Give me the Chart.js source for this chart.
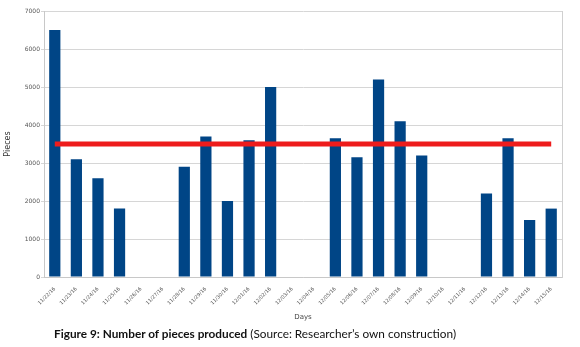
<!DOCTYPE html>
<html><head><meta charset="utf-8">
<script src="https://cdn.jsdelivr.net/npm/chart.js@4"></script>
<style>
html,body{margin:0;padding:0;background:#fff;}
#wrap{position:relative;width:580px;height:347px;}
#cap{position:absolute;left:54px;top:326px;font-family:Lato,"Open Sans",sans-serif;font-size:11.8px;color:#111;white-space:nowrap;}
#cap b{font-weight:700;}
</style></head><body>
<div id="wrap"><canvas id="c" width="580" height="347"></canvas>
<div id="cap"><b>Figure 9: Number of pieces produced</b> (Source: Researcher’s own construction)</div></div>
<script>
const categories = ["11/22/16","11/23/16","11/24/16","11/25/16","11/26/16","11/27/16","11/28/16","11/29/16","11/30/16","12/01/16","12/02/16","12/03/16","12/04/16","12/05/16","12/06/16","12/07/16","12/08/16","12/09/16","12/10/16","12/11/16","12/12/16","12/13/16","12/14/16","12/15/16"];
const pieces = [6500,3100,2600,1800,0,0,2900,3700,2000,3600,5000,0,0,3650,3150,5200,4100,3200,0,0,2200,3650,1500,1800];
const target = [3500,3500,3500,3500,3500,3500,3500,3500,3500,3500,3500,3500,3500,3500,3500,3500,3500,3500,3500,3500,3500,3500,3500,3500];
const yTicks = [0,1000,2000,3000,4000,5000,6000,7000];

new Chart(document.getElementById('c'), {
  data: {
    labels: categories,
    datasets: [
      {type:'line', data: target, borderColor:'#ee1c1c', borderWidth:5, pointRadius:0, order:0, borderCapStyle:'butt'},
      {type:'bar', data: pieces, backgroundColor:'#004586', barPercentage:0.52, categoryPercentage:1.0, order:1}
    ]
  },
  options: {
    responsive:false, animation:false,
    layout:{padding:{top:11,right:18,bottom:24,left:0}},
    plugins:{legend:{display:false}, tooltip:{enabled:false}},
    scales:{
      x:{
        grid:{display:false},
        border:{display:true,color:'#c8c8c8'},
        ticks:{maxRotation:45,minRotation:45,autoSkip:false,font:{family:'DejaVu Sans',size:5},color:'#555',padding:1},
        title:{display:true,text:'Days',font:{family:'DejaVu Sans',size:7},color:'#444',padding:{top:0,bottom:2}},
        afterFit:(s)=>{s.height=46;}
      },
      y:{
        min:0,max:7000,
        afterBuildTicks:(s)=>{s.ticks=yTicks.map(v=>({value:v}));},
        grid:{color:'#d6d6d6',tickLength:3},
        border:{display:true,color:'#c8c8c8'},
        ticks:{font:{family:'DejaVu Sans',size:6},color:'#555',padding:1,callback:(v)=>String(v)},
        title:{display:true,text:'Pieces',font:{family:'DejaVu Sans',size:8},color:'#333',padding:{top:3,bottom:0}},
        afterFit:(s)=>{s.width=44;}
      },
      y2:{
        position:'right',min:0,max:7000,
        grid:{drawOnChartArea:false,drawTicks:false},
        border:{display:true,color:'#d0d0d0'},
        ticks:{display:false},
        afterFit:(s)=>{s.width=0;}
      }
    }
  }
});
</script>
</body></html>
